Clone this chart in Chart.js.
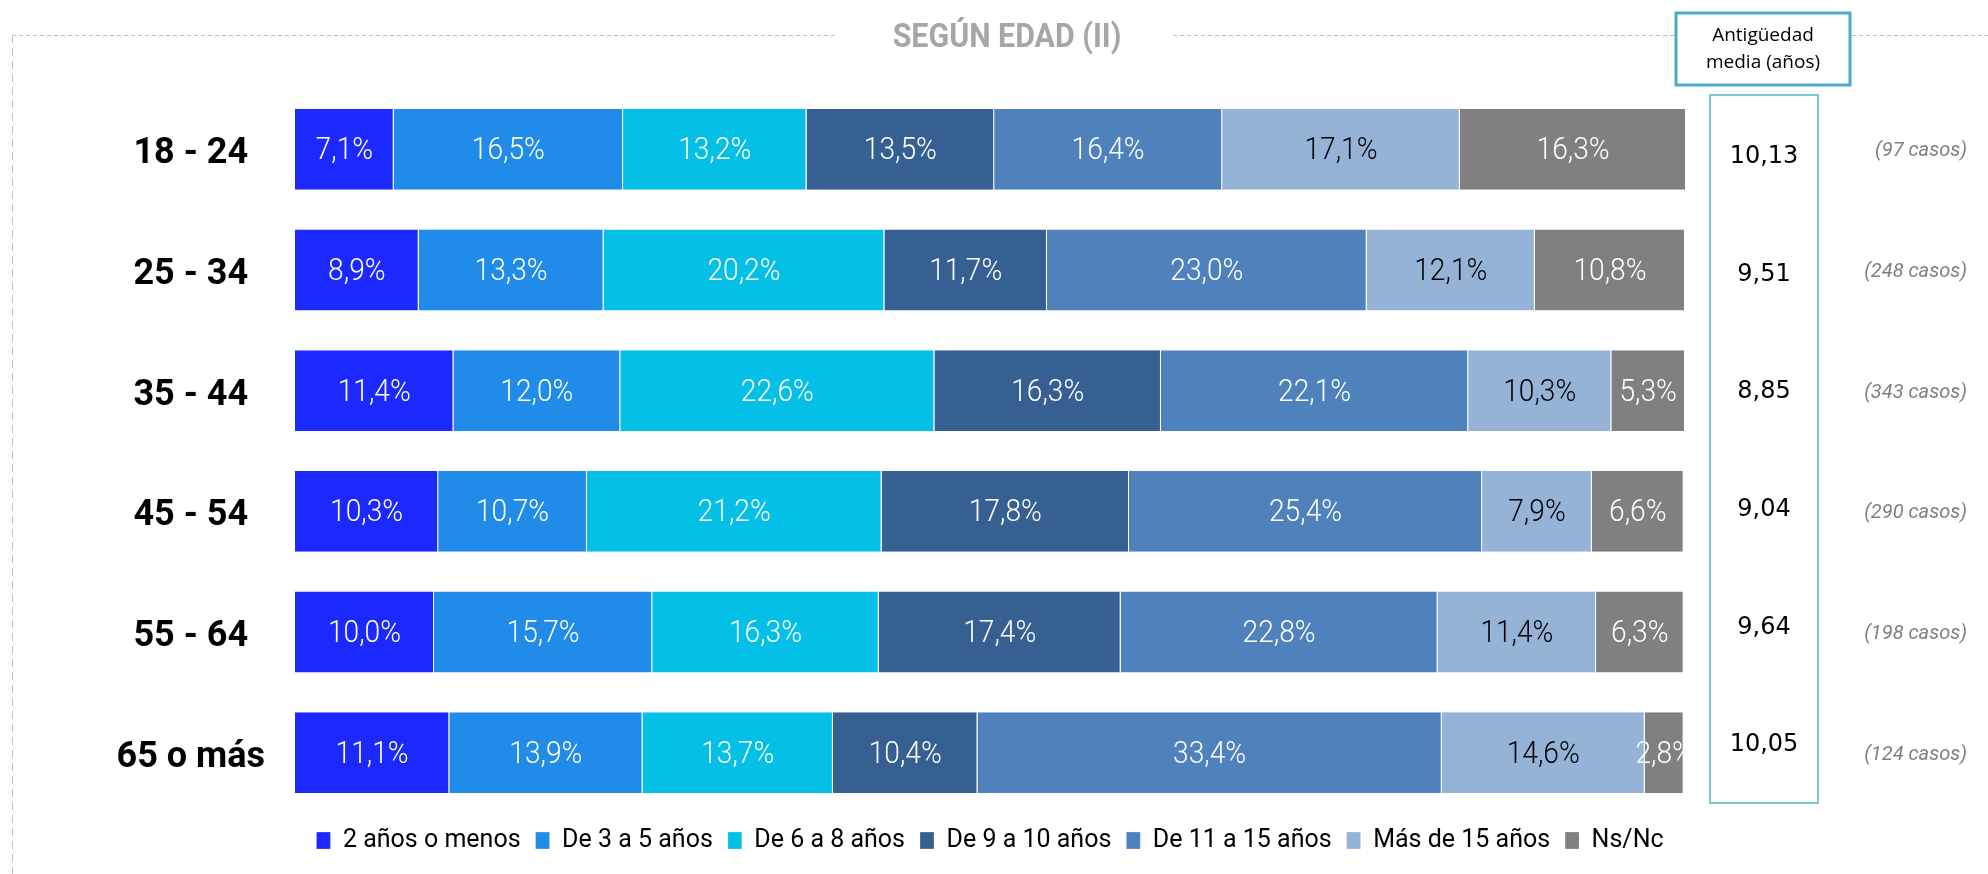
<!DOCTYPE html>
<html>
<head>
<meta charset="utf-8">
<script src="https://cdn.jsdelivr.net/npm/chart.js@4.4.1/dist/chart.umd.min.js"></script>
<style>
  html, body { margin: 0; padding: 0; background: #fff; }
  #wrap { width: 1988px; height: 874px; }
</style>
</head>
<body>
<div id="wrap"><canvas id="myChart" width="1988" height="874"></canvas></div>
<script>
var edades = ['18 - 24', '25 - 34', '35 - 44', '45 - 54', '55 - 64', '65 o más'];
var dosOMenos = [7.1, 8.9, 11.4, 10.3, 10.0, 11.1];
var de3a5 = [16.5, 13.3, 12.0, 10.7, 15.7, 13.9];
var de6a8 = [13.2, 20.2, 22.6, 21.2, 16.3, 13.7];
var de9a10 = [13.5, 11.7, 16.3, 17.8, 17.4, 10.4];
var de11a15 = [16.4, 23.0, 22.1, 25.4, 22.8, 33.4];
var masDe15 = [17.1, 12.1, 10.3, 7.9, 11.4, 14.6];
var nsnc = [16.3, 10.8, 5.3, 6.6, 6.3, 2.8];
var antiguedad = ['10,13', '9,51', '8,85', '9,04', '9,64', '10,05'];
var casos = ['(97 casos)', '(248 casos)', '(343 casos)', '(290 casos)', '(198 casos)', '(124 casos)'];

function fmt(v) {
    return v.toFixed(1).replace('.', ',') + '%';
}

function narrowText(ctx, text, x, y, sx) {
    ctx.save();
    ctx.translate(x, y);
    ctx.scale(sx, 1);
    ctx.fillText(text, 0, 0);
    ctx.restore();
}

// etiquetas dentro de las barras
var barLabels = {
    id: 'barLabels',
    afterDatasetsDraw(chart) {
        var ctx = chart.ctx;
        ctx.save();
        ctx.font = '300 32px Roboto, sans-serif';
        ctx.textAlign = 'center';
        ctx.textBaseline = 'middle';
        chart.data.datasets.forEach(function(ds, di) {
            var meta = chart.getDatasetMeta(di);
            ctx.fillStyle = ds.labelColor;
            meta.data.forEach(function(bar, i) {
                narrowText(ctx, fmt(ds.data[i]), (bar.x + bar.base) / 2, bar.y + 2, 0.88);
            });
        });
        ctx.restore();
    }
};

// marco, titulo, cabecera de antigüedad y columnas de la derecha
var extras = {
    id: 'extras',
    afterDraw(chart) {
        var ctx = chart.ctx;
        var y = chart.scales.y;
        ctx.save();
        ctx.strokeStyle = '#bfbfbf';
        ctx.lineWidth = 1;
        ctx.setLineDash([4, 3]);
        ctx.beginPath();
        ctx.moveTo(12, 35.5); ctx.lineTo(835, 35.5);
        ctx.moveTo(1173, 35.5); ctx.lineTo(1674, 35.5);
        ctx.moveTo(1852, 35.5); ctx.lineTo(1988, 35.5);
        ctx.stroke();
        ctx.setLineDash([8, 5]);
        ctx.beginPath();
        ctx.moveTo(12.5, 35); ctx.lineTo(12.5, 874);
        ctx.stroke();
        ctx.setLineDash([]);

        ctx.fillStyle = '#a6a6a6';
        ctx.textAlign = 'center';
        ctx.textBaseline = 'middle';
        ctx.font = 'bold 33px Roboto, sans-serif';
        narrowText(ctx, 'SEGÚN EDAD (II)', 1007, 39, 0.92);

        ctx.strokeStyle = '#4bacc6';
        ctx.lineWidth = 3;
        ctx.strokeRect(1676, 13, 174, 72);
        ctx.strokeStyle = '#7cc6d8';
        ctx.lineWidth = 2;
        ctx.strokeRect(1710, 95, 108, 708);

        ctx.fillStyle = '#000';
        ctx.font = '19px "Open Sans", sans-serif';
        ctx.fillText('Antigüedad', 1763, 36);
        ctx.fillText('media (años)', 1763, 63);

        var top = y.getPixelForValue(0), bot = y.getPixelForValue(edades.length - 1);
        var mid = (top + bot) / 2;
        ctx.font = '24px "DejaVu Sans", sans-serif';
        antiguedad.forEach(function(v, i) {
            var p = y.getPixelForValue(i);
            ctx.fillText(v, 1764, mid + (p - mid) * 0.975);
        });
        ctx.fillStyle = '#7f7f7f';
        ctx.textAlign = 'right';
        ctx.font = 'italic 20px Roboto, sans-serif';
        casos.forEach(function(v, i) {
            ctx.fillText(v, 1967, y.getPixelForValue(i) + 2);
        });
        ctx.restore();
    }
};

function serie(label, data, color, labelColor) {
    return {
        label: label,
        data: data,
        backgroundColor: color,
        borderColor: '#ffffff',
        borderWidth: { top: 0, bottom: 0, left: 0, right: 1 },
        borderSkipped: false,
        labelColor: labelColor
    };
}

var ctx = document.getElementById('myChart').getContext('2d');
var myChart = new Chart(ctx, {
    type: 'bar',
    data: {
        labels: edades,
        datasets: [
            serie('2 años o menos', dosOMenos, '#1b29ff', '#fff'),
            serie('De 3 a 5 años', de3a5, '#218bea', '#fff'),
            serie('De 6 a 8 años', de6a8, '#05c0e6', '#fff'),
            serie('De 9 a 10 años', de9a10, '#376092', '#fff'),
            serie('De 11 a 15 años', de11a15, '#4f81bd', '#fff'),
            serie('Más de 15 años', masDe15, '#95b3d7', '#000'),
            serie('Ns/Nc', nsnc, '#808080', '#fff')
        ]
    },
    options: {
        indexAxis: 'y',
        responsive: false,
        animation: false,
        maintainAspectRatio: false,
        layout: { padding: { left: 20, right: 303, top: 89, bottom: 11 } },
        datasets: { bar: { barPercentage: 1, categoryPercentage: 0.67 } },
        scales: {
            x: { stacked: true, min: 0, max: 100, display: false },
            y: {
                stacked: true,
                grid: { display: false, drawTicks: false },
                border: { display: false },
                afterFit: function(axis) { axis.width = 275; },
                ticks: {
                    color: '#000',
                    crossAlign: 'center',
                    padding: 30,
                    labelOffset: 5,
                    font: { family: 'Roboto', size: 36, weight: 'bold' }
                }
            }
        },
        plugins: {
            tooltip: { enabled: false },
            legend: {
                position: 'bottom',
                fullSize: false,
                labels: {
                    color: '#000',
                    boxWidth: 14,
                    boxHeight: 17,
                    padding: 15,
                    font: { family: 'Roboto', size: 25 }
                }
            }
        }
    },
    plugins: [barLabels, extras]
});
</script>
</body>
</html>
